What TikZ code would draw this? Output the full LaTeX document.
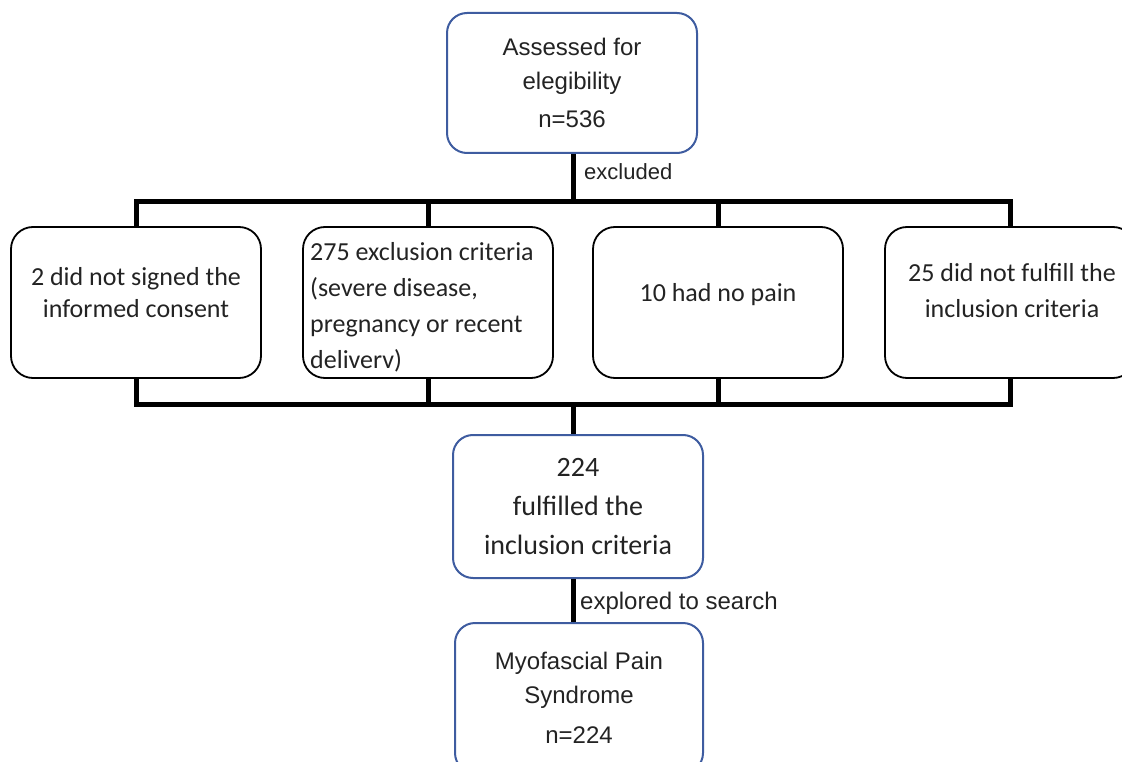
\documentclass[tikz,border=0pt]{standalone}
\usepackage{fontspec}
\setmainfont{Liberation Sans}
\newfontfamily\calfont{Carlito}
\definecolor{boxblue}{RGB}{62,92,160}
\definecolor{txt}{RGB}{35,35,35}
\begin{document}
\begin{tikzpicture}[x=1pt,y=-1pt,
  bluebox/.style={draw=boxblue, line width=2pt, rounded corners=20pt, minimum width=250pt, inner sep=0pt, align=center, text=txt, font=\fontsize{24}{34}\selectfont},
  blackbox/.style={draw=black, line width=1.8pt, rounded corners=22pt, minimum width=250pt, minimum height=151pt, inner sep=0pt},
  boxtext/.style={align=center, inner sep=0pt, text=txt, font=\calfont\fontsize{26}{32}\selectfont},
  conn/.style={line width=5pt, line join=miter},
  lbl/.style={font=\fontsize{22}{25}\selectfont, anchor=west, inner sep=0pt, text=txt}]
\useasboundingbox (0,0) rectangle (1122,762);
% main boxes
\node[bluebox, minimum height=140pt] (top) at (572,83) {Assessed for\\elegibility\\[4pt]n=536};
\node[blackbox] (b1) at (136,302.5) {};
\node[blackbox] (b2) at (428,302.5) {};
\node[blackbox] (b3) at (718,302.5) {};
\node[blackbox] (b4) at (1010,302.5) {};
\node[bluebox, minimum height=143pt, font=\calfont\fontsize{28}{39}\selectfont] (b5) at (578,506.5) {224\\fulfilled the\\inclusion criteria};
\node[bluebox, minimum height=150pt, minimum width=248pt] (b6) at (579,698) {Myofascial Pain\\Syndrome\\[6pt]n=224};
% texts of the black boxes
\node[boxtext] (t1) at (136,293) {2 did not signed the\\informed consent};
\node[boxtext, align=left, anchor=north west, font=\calfont\fontsize{26}{36}\selectfont] (t2) at (310,242) {275 exclusion criteria\\(severe disease,\\pregnancy or recent\\deliverv)};
\node[boxtext] (t3) at (718,295) {10 had no pain};
\node[boxtext, font=\calfont\fontsize{26}{36}\selectfont] (t4) at (1012,291) {25 did not fulfill the\\inclusion criteria};
% connectors
\coordinate (tj) at (573,202);
\coordinate (bj) at (573,404);
\draw[conn] (top.south -| tj) -- (tj);
\draw[conn] (b1.north) |- (tj) -| (b4.north);
\draw[conn] (b2.north) -- (b2.north |- tj);
\draw[conn] (b3.north) -- (b3.north |- tj);
\draw[conn] (b1.south) |- (bj) -| (b4.south);
\draw[conn] (b2.south) -- (b2.south |- bj);
\draw[conn] (b3.south) -- (b3.south |- bj);
\draw[conn] (bj) -- (bj |- b5.north);
\draw[conn] (b5.south -| bj) -- (b6.north -| bj);
% labels
\node[lbl] (exl) at (584,172) {excluded};
\node[lbl, font=\fontsize{24}{28}\selectfont] (exp) at (580,603) {explored to search};
\end{tikzpicture}
\end{document}
